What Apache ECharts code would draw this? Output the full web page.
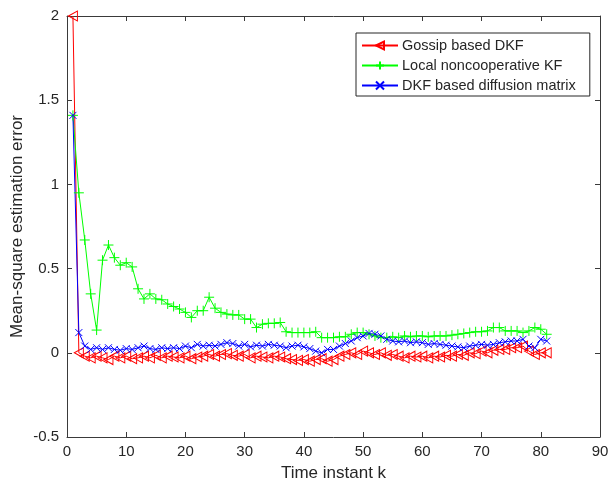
<!DOCTYPE html>
<html><head><meta charset="utf-8">
<script src="https://cdn.jsdelivr.net/npm/echarts@6/dist/echarts.min.js"></script>
<style>html,body{margin:0;padding:0;background:#fff}#c{width:610px;height:485px}</style>
</head><body><div id="c"></div>
<script>
const seriesNames = ["Gossip based DKF", "Local noncooperative KF", "DKF based diffusion matrix"];
const xTicks = [0,10,20,30,40,50,60,70,80,90];
const yTicks = [-0.5,0,0.5,1,1.5,2];
const steps = Array.from({length:81}, (_, i) => i + 1);
const gossip = [2.0,0.0,-0.02,-0.03,-0.02,-0.03,-0.04,-0.02,-0.03,-0.02,
 -0.035,-0.03,-0.02,-0.03,-0.015,-0.03,-0.02,-0.025,-0.03,-0.02,
 -0.035,-0.025,-0.02,-0.01,-0.02,-0.01,-0.005,-0.015,-0.02,-0.01,
 -0.03,-0.02,-0.025,-0.03,-0.02,-0.025,-0.035,-0.04,-0.045,-0.04,
 -0.05,-0.04,-0.035,-0.05,-0.04,-0.02,-0.01,0.0,-0.01,0.01,
 0.0,-0.01,0.0,-0.015,-0.01,-0.02,-0.03,-0.02,-0.025,-0.02,
 -0.03,-0.02,-0.025,-0.015,-0.02,-0.01,-0.015,0.0,-0.005,0.01,
 0.0,0.015,0.02,0.02,0.03,0.03,0.04,0.01,-0.01,0.0,0.0];
const localKF = [1.41,0.95,0.67,0.35,0.135,0.55,0.64,0.565,0.52,0.535,
 0.51,0.38,0.32,0.35,0.32,0.315,0.29,0.275,0.26,0.24,
 0.21,0.25,0.25,0.33,0.265,0.24,0.23,0.225,0.225,0.2,
 0.2,0.15,0.17,0.175,0.175,0.18,0.125,0.12,0.12,0.12,
 0.12,0.125,0.09,0.09,0.09,0.095,0.095,0.11,0.12,0.12,
 0.11,0.1,0.09,0.09,0.095,0.09,0.1,0.095,0.1,0.1,
 0.095,0.1,0.1,0.1,0.105,0.11,0.115,0.12,0.125,0.125,
 0.13,0.15,0.15,0.13,0.13,0.13,0.12,0.13,0.15,0.14,0.11];
const diffusion = [1.41,0.12,0.04,0.02,0.03,0.02,0.03,0.02,0.015,0.025,
 0.02,0.03,0.04,0.025,0.02,0.03,0.025,0.03,0.025,0.04,
 0.03,0.05,0.04,0.045,0.04,0.05,0.06,0.055,0.04,0.05,
 0.035,0.045,0.04,0.05,0.045,0.04,0.03,0.04,0.045,0.035,
 0.025,0.01,0.0,0.02,0.02,0.04,0.055,0.07,0.09,0.1,
 0.115,0.11,0.1,0.08,0.07,0.065,0.07,0.06,0.065,0.06,
 0.05,0.055,0.05,0.045,0.04,0.035,0.03,0.04,0.045,0.05,
 0.045,0.05,0.06,0.065,0.07,0.07,0.08,0.04,0.03,0.08,0.07];

const pair = arr => steps.map((k, i) => [k, arr[i]]);
const axisCol = '#3a3a3a';
const txtCol = '#262626';
const font = 'Liberation Sans, Arial, sans-serif';
const chart = echarts.init(document.getElementById('c'), null, {renderer:'canvas'});
const baseX = {type:'value', min:0, max:90, interval:10,
  axisLine:{show:true, onZero:false, lineStyle:{color:axisCol, width:1}},
  axisTick:{show:true, inside:true, length:5, lineStyle:{color:axisCol}},
  splitLine:{show:false}};
const baseY = {type:'value', min:-0.5, max:2, interval:0.5,
  axisLine:{show:true, onZero:false, lineStyle:{color:axisCol, width:1}},
  axisTick:{show:true, inside:true, length:5, lineStyle:{color:axisCol}},
  splitLine:{show:false}};
chart.setOption({
  animation:false,
  backgroundColor:'#fff',
  grid:{left:67, right:10, top:16, bottom:48, containLabel:false, outerBoundsMode:'none'},
  xAxis:[
    Object.assign({}, baseX, {position:'bottom', name:'Time instant k', nameLocation:'middle', nameGap:28,
      nameTextStyle:{fontFamily:font, fontSize:17, color:txtCol},
      axisLabel:{fontFamily:font, fontSize:15, color:txtCol, margin:7,
        formatter: v => xTicks.includes(v) ? String(v) : ''}}),
    Object.assign({}, baseX, {position:'top', axisLabel:{show:false}})
  ],
  yAxis:[
    Object.assign({}, baseY, {position:'left', name:'Mean-square estimation error', nameLocation:'middle', nameGap:41,
      nameMoveOverlap:false,
      nameTextStyle:{fontFamily:font, fontSize:17, color:txtCol},
      axisLabel:{fontFamily:font, fontSize:15, color:txtCol, margin:8,
        formatter: v => yTicks.includes(v) ? String(v) : ''}}),
    Object.assign({}, baseY, {position:'right', axisLabel:{show:false}})
  ],
  legend:{
    orient:'vertical', left:356, top:33, itemWidth:36, itemHeight:10, itemGap:5,
    padding:[5,14,3,5], borderColor:txtCol, borderWidth:1, backgroundColor:'#fff',
    textStyle:{fontFamily:font, fontSize:14.5, color:txtCol, padding:[0,0,0,-1]},
    data:seriesNames
  },
  series:[
    {name:seriesNames[0], type:'line', data:pair(gossip), symbol:'path://M0,5 L10,0 L10,10 Z', symbolSize:[9,10],
      showAllSymbol:true, itemStyle:{color:'rgba(255,255,255,0)', borderColor:'#ff0000', borderWidth:1},
      lineStyle:{color:'#ff0000', width:1}, color:'#ff0000'},
    {name:seriesNames[1], type:'line', data:pair(localKF), symbol:'path://M5,0 L5,10 M0,5 L10,5', symbolSize:10,
      showAllSymbol:true, itemStyle:{color:'rgba(255,255,255,0)', borderColor:'#00ff00', borderWidth:1},
      lineStyle:{color:'#00ff00', width:1}, color:'#00ff00'},
    {name:seriesNames[2], type:'line', data:pair(diffusion), symbol:'path://M0,0 L10,10 M10,0 L0,10', symbolSize:7,
      showAllSymbol:true, itemStyle:{color:'rgba(255,255,255,0)', borderColor:'#0000ff', borderWidth:1},
      lineStyle:{color:'#0000ff', width:1}, color:'#0000ff'}
  ]
});
</script></body></html>
